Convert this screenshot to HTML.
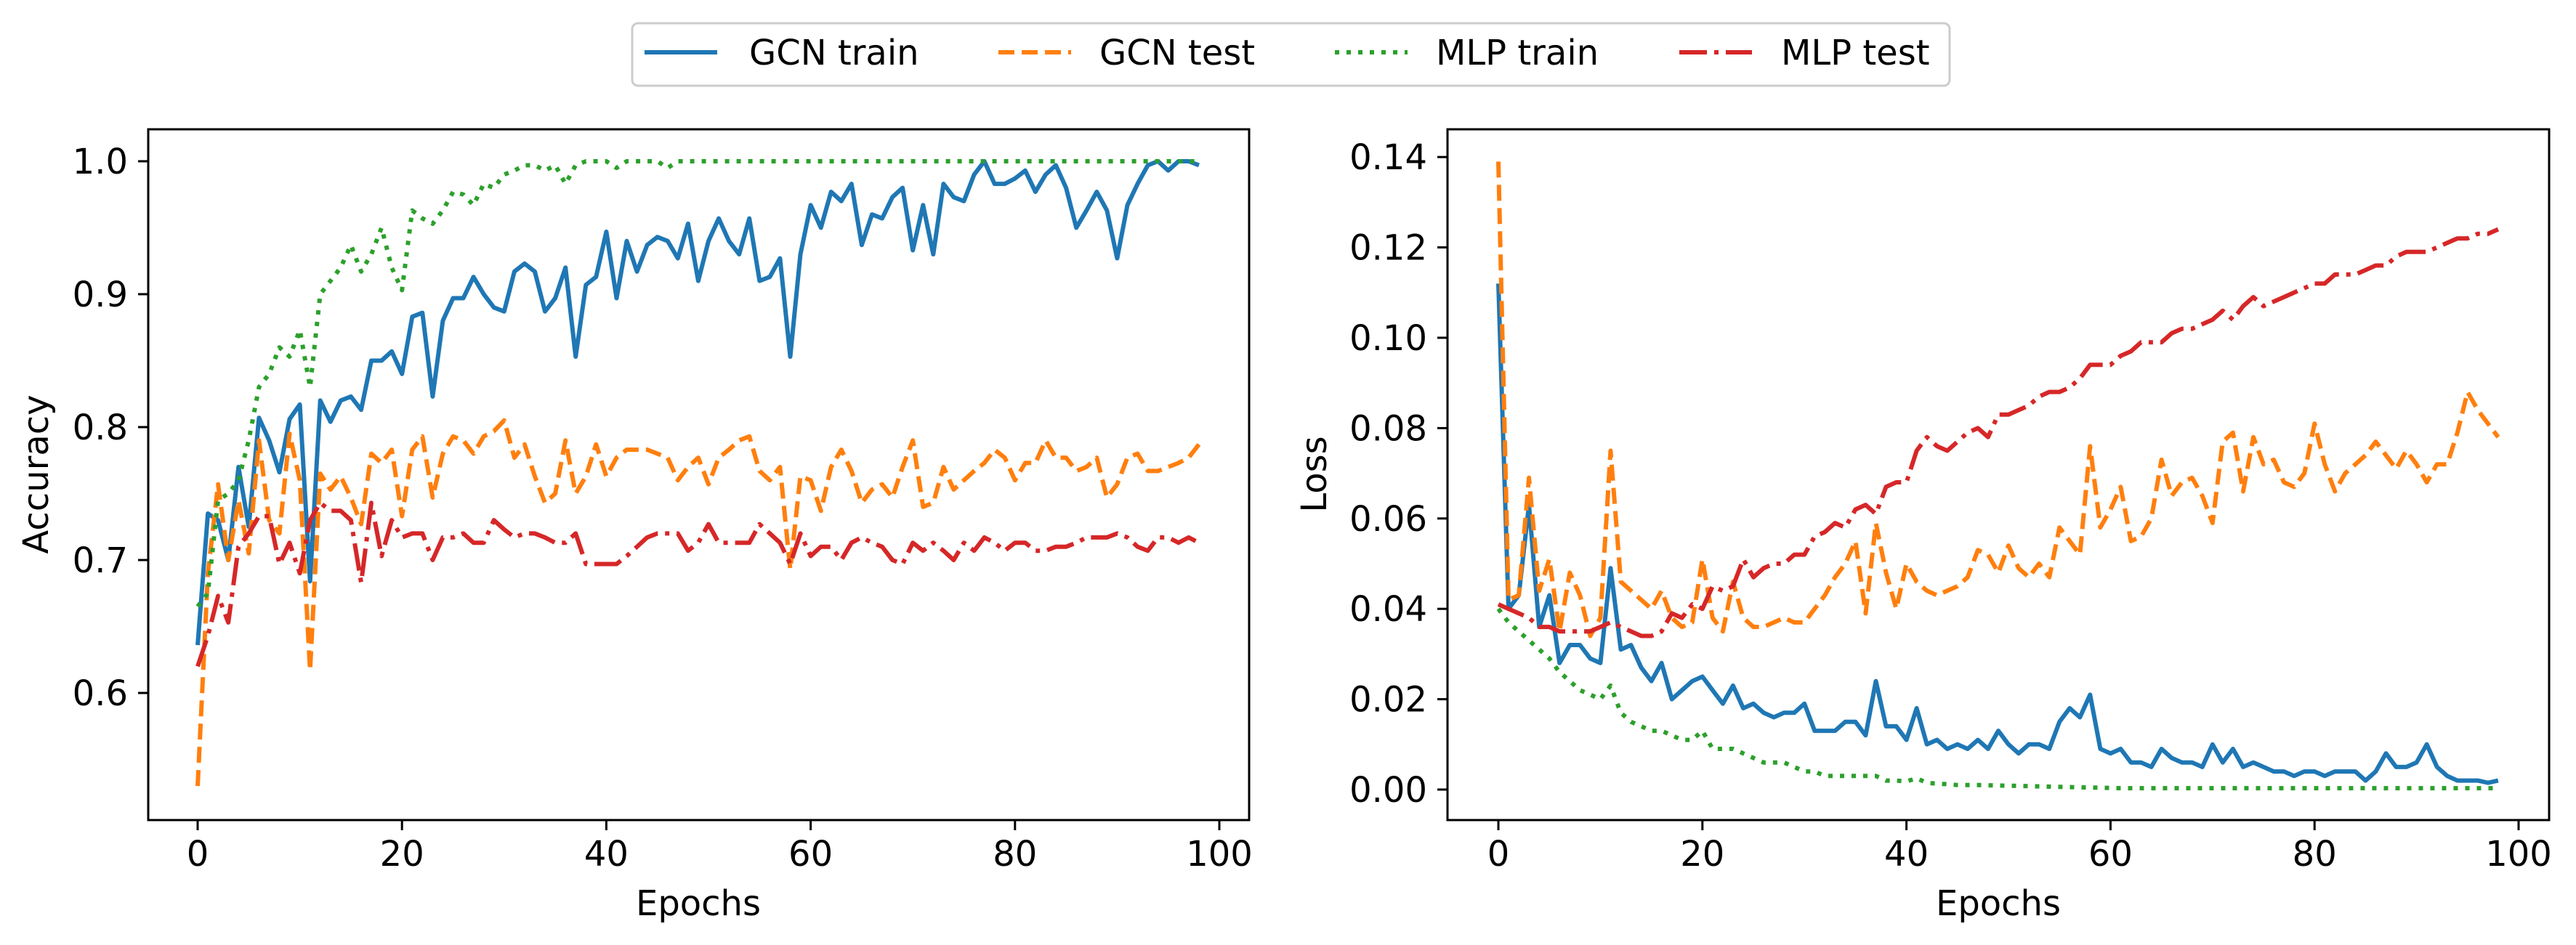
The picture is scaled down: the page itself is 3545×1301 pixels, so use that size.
<!DOCTYPE html>
<html><head><meta charset="utf-8"><style>
html,body{margin:0;padding:0;background:#fff;}
svg{display:block;font-family:"DejaVu Sans","Liberation Sans",sans-serif;}
</style></head><body>
<svg id="s" width="3545" height="1301" viewBox="0 0 3545 1301" xmlns="http://www.w3.org/2000/svg">
<rect width="3545" height="1301" fill="#fff"/>
<g id="g"></g>
</svg>
<script>
var NS="http://www.w3.org/2000/svg",g=document.getElementById('g');
function el(t,a,txt){var e=document.createElementNS(NS,t);for(var k in a)e.setAttribute(k,a[k]);if(txt!=null)e.textContent=txt;g.appendChild(e);return e;}
var gcnTrA=[0.636,0.735,0.73,0.70,0.77,0.725,0.807,0.79,0.766,0.806,0.817,0.684,0.82,0.804,0.82,0.823,0.813,0.85,0.85,0.857,0.84,0.883,0.886,0.823,0.88,0.897,0.897,0.913,0.9,0.89,0.887,0.917,0.923,0.917,0.887,0.897,0.92,0.853,0.907,0.913,0.947,0.897,0.94,0.917,0.937,0.943,0.94,0.927,0.953,0.91,0.94,0.957,0.94,0.93,0.957,0.91,0.913,0.927,0.853,0.93,0.967,0.95,0.977,0.97,0.983,0.937,0.96,0.957,0.973,0.98,0.933,0.967,0.93,0.983,0.973,0.97,0.99,1.0,0.983,0.983,0.987,0.993,0.977,0.99,0.997,0.98,0.95,0.963,0.977,0.963,0.927,0.967,0.983,0.997,1.0,0.993,1.0,1.0,0.997];
var gcnTeA=[0.53,0.69,0.757,0.70,0.745,0.705,0.79,0.73,0.72,0.795,0.76,0.617,0.765,0.753,0.763,0.747,0.727,0.78,0.773,0.783,0.733,0.783,0.793,0.747,0.78,0.793,0.79,0.78,0.793,0.797,0.805,0.777,0.787,0.763,0.743,0.75,0.79,0.75,0.763,0.787,0.763,0.777,0.783,0.783,0.783,0.78,0.777,0.76,0.77,0.777,0.757,0.777,0.783,0.79,0.793,0.767,0.76,0.77,0.693,0.763,0.76,0.737,0.77,0.783,0.767,0.743,0.753,0.757,0.747,0.77,0.79,0.74,0.743,0.77,0.753,0.76,0.767,0.773,0.783,0.777,0.76,0.773,0.773,0.79,0.777,0.777,0.767,0.77,0.777,0.747,0.757,0.777,0.78,0.767,0.767,0.77,0.773,0.777,0.787];
var mlpTrA=[0.665,0.675,0.745,0.75,0.76,0.79,0.83,0.84,0.86,0.853,0.873,0.83,0.9,0.91,0.92,0.937,0.917,0.93,0.95,0.92,0.903,0.963,0.957,0.953,0.963,0.977,0.975,0.967,0.983,0.98,0.99,0.993,0.997,0.997,0.993,0.997,0.983,0.997,1,1,1,0.995,1,1,1,1,0.995];
while(mlpTrA.length<99)mlpTrA.push(1.0);
var mlpTeA=[0.62,0.643,0.673,0.653,0.71,0.72,0.733,0.733,0.697,0.713,0.69,0.73,0.743,0.737,0.737,0.73,0.683,0.743,0.703,0.73,0.717,0.72,0.72,0.70,0.717,0.717,0.72,0.713,0.713,0.73,0.723,0.717,0.72,0.72,0.717,0.713,0.713,0.72,0.697,0.697,0.697,0.697,0.703,0.71,0.717,0.72,0.72,0.72,0.707,0.713,0.727,0.713,0.713,0.713,0.713,0.727,0.72,0.713,0.697,0.72,0.703,0.71,0.71,0.70,0.713,0.717,0.713,0.71,0.70,0.697,0.713,0.707,0.713,0.707,0.70,0.713,0.707,0.717,0.713,0.707,0.713,0.713,0.707,0.707,0.71,0.71,0.713,0.717,0.717,0.717,0.72,0.717,0.71,0.707,0.717,0.717,0.713,0.717,0.713];
var gcnTrL=[0.112,0.04,0.043,0.063,0.036,0.043,0.028,0.032,0.032,0.029,0.028,0.049,0.031,0.032,0.027,0.024,0.028,0.02,0.022,0.024,0.025,0.022,0.019,0.023,0.018,0.019,0.017,0.016,0.017,0.017,0.019,0.013,0.013,0.013,0.015,0.015,0.012,0.024,0.014,0.014,0.011,0.018,0.010,0.011,0.009,0.010,0.009,0.011,0.009,0.013,0.010,0.008,0.010,0.010,0.009,0.015,0.018,0.016,0.021,0.009,0.008,0.009,0.006,0.006,0.005,0.009,0.007,0.006,0.006,0.005,0.010,0.006,0.009,0.005,0.006,0.005,0.004,0.004,0.003,0.004,0.004,0.003,0.004,0.004,0.004,0.002,0.004,0.008,0.005,0.005,0.006,0.010,0.005,0.003,0.002,0.002,0.002,0.0015,0.002];
var gcnTeL=[0.139,0.042,0.043,0.069,0.044,0.051,0.035,0.048,0.043,0.034,0.038,0.075,0.046,0.044,0.042,0.040,0.044,0.038,0.036,0.037,0.051,0.038,0.035,0.046,0.038,0.036,0.036,0.037,0.038,0.037,0.037,0.040,0.043,0.047,0.050,0.055,0.039,0.059,0.048,0.040,0.050,0.046,0.044,0.043,0.044,0.045,0.047,0.053,0.052,0.048,0.054,0.049,0.047,0.050,0.047,0.058,0.055,0.052,0.076,0.058,0.062,0.067,0.055,0.056,0.060,0.073,0.065,0.068,0.069,0.065,0.059,0.077,0.079,0.066,0.078,0.072,0.073,0.068,0.067,0.070,0.081,0.072,0.066,0.070,0.072,0.074,0.077,0.074,0.071,0.075,0.072,0.068,0.072,0.072,0.079,0.088,0.084,0.081,0.078];
var mlpTrL=[0.040,0.037,0.035,0.033,0.031,0.029,0.026,0.024,0.022,0.021,0.020,0.023,0.017,0.015,0.014,0.013,0.013,0.012,0.011,0.011,0.013,0.009,0.009,0.009,0.008,0.007,0.006,0.006,0.006,0.005,0.004,0.004,0.003,0.003,0.003,0.003,0.003,0.003,0.002,0.002,0.0018,0.0025,0.0015,0.0013,0.0012,0.001,0.001,0.001];
while(mlpTrL.length<99){mlpTrL.push(Math.max(0.0003,0.001-(mlpTrL.length-47)*0.00005));}
var mlpTeL=[0.041,0.040,0.039,0.038,0.036,0.036,0.035,0.035,0.035,0.035,0.036,0.037,0.036,0.035,0.034,0.034,0.035,0.039,0.038,0.041,0.040,0.045,0.044,0.045,0.051,0.047,0.049,0.050,0.050,0.052,0.052,0.056,0.057,0.059,0.058,0.062,0.063,0.061,0.067,0.068,0.068,0.075,0.078,0.076,0.075,0.077,0.079,0.080,0.078,0.083,0.083,0.084,0.085,0.087,0.088,0.088,0.089,0.091,0.094,0.094,0.094,0.096,0.097,0.099,0.099,0.099,0.101,0.102,0.102,0.103,0.104,0.106,0.104,0.107,0.109,0.107,0.108,0.109,0.110,0.111,0.112,0.112,0.114,0.114,0.114,0.115,0.116,0.116,0.118,0.119,0.119,0.119,0.120,0.121,0.122,0.122,0.123,0.123,0.124];
var C={b:'#1f77b4',o:'#ff7f0e',gr:'#2ca02c',r:'#d62728'};
var D={solid:'none',dash:'22 10',dot:'6 10',dd:'38 10 6 10'};
function line(data,fx,fy,col,da){var p='';data.forEach(function(v,i){p+=(i?'L':'M')+fx(i).toFixed(1)+' '+fy(v).toFixed(1);});el('path',{d:p,fill:'none',stroke:col,'stroke-width':6,'stroke-dasharray':da,'stroke-linejoin':'round'});}
var FS=48;
var LX=function(e){return 272+e*14.06},LY=function(v){return 222+(1-v)*1830};
line(gcnTrA,LX,LY,C.b,D.solid);line(gcnTeA,LX,LY,C.o,D.dash);line(mlpTrA,LX,LY,C.gr,D.dot);line(mlpTeA,LX,LY,C.r,D.dd);
el('rect',{x:204,y:178,width:1515,height:951,fill:'none',stroke:'#000','stroke-width':3});
[0,20,40,60,80,100].forEach(function(t){var x=LX(t);el('line',{x1:x,y1:1129,x2:x,y2:1143,stroke:'#000','stroke-width':3});el('text',{x:x,y:1192,'font-size':FS,'text-anchor':'middle'},t);});
[0.6,0.7,0.8,0.9,1.0].forEach(function(t){var y=LY(t);el('line',{x1:190,y1:y,x2:204,y2:y,stroke:'#000','stroke-width':3});el('text',{x:176,y:y+17,'font-size':FS,'text-anchor':'end'},t.toFixed(1));});
el('text',{x:961,y:1260,'font-size':FS,'text-anchor':'middle'},'Epochs');
el('text',{x:0,y:0,'font-size':FS,'text-anchor':'middle',transform:'translate(66 653) rotate(-90)'},'Accuracy');
var RX=function(e){return 2062+e*14.04},RY=function(v){return 1087-v*6220};
line(gcnTrL,RX,RY,C.b,D.solid);line(gcnTeL,RX,RY,C.o,D.dash);line(mlpTrL,RX,RY,C.gr,D.dot);line(mlpTeL,RX,RY,C.r,D.dd);
el('rect',{x:1992,y:178,width:1516,height:951,fill:'none',stroke:'#000','stroke-width':3});
[0,20,40,60,80,100].forEach(function(t){var x=RX(t);el('line',{x1:x,y1:1129,x2:x,y2:1143,stroke:'#000','stroke-width':3});el('text',{x:x,y:1192,'font-size':FS,'text-anchor':'middle'},t);});
[0,0.02,0.04,0.06,0.08,0.10,0.12,0.14].forEach(function(t){var y=RY(t);el('line',{x1:1978,y1:y,x2:1992,y2:y,stroke:'#000','stroke-width':3});el('text',{x:1964,y:y+17,'font-size':FS,'text-anchor':'end'},t.toFixed(2));});
el('text',{x:2750,y:1260,'font-size':FS,'text-anchor':'middle'},'Epochs');
el('text',{x:0,y:0,'font-size':FS,'text-anchor':'middle',transform:'translate(1825 653) rotate(-90)'},'Loss');
el('rect',{x:870,y:32,width:1813,height:86,rx:8,fill:'#fff',stroke:'#ccc','stroke-width':3});
[[887,1031,C.b,D.solid,'GCN train'],[1374,1513,C.o,D.dash,'GCN test'],[1837,1976,C.gr,D.dot,'MLP train'],[2311,2451,C.r,D.dd,'MLP test']].forEach(function(l){
el('line',{x1:l[0],y1:72,x2:l[0]+100,y2:72,stroke:l[2],'stroke-width':6,'stroke-dasharray':l[3]});
el('text',{x:l[1],y:89,'font-size':FS},l[4]);});
</script>
</body></html>
